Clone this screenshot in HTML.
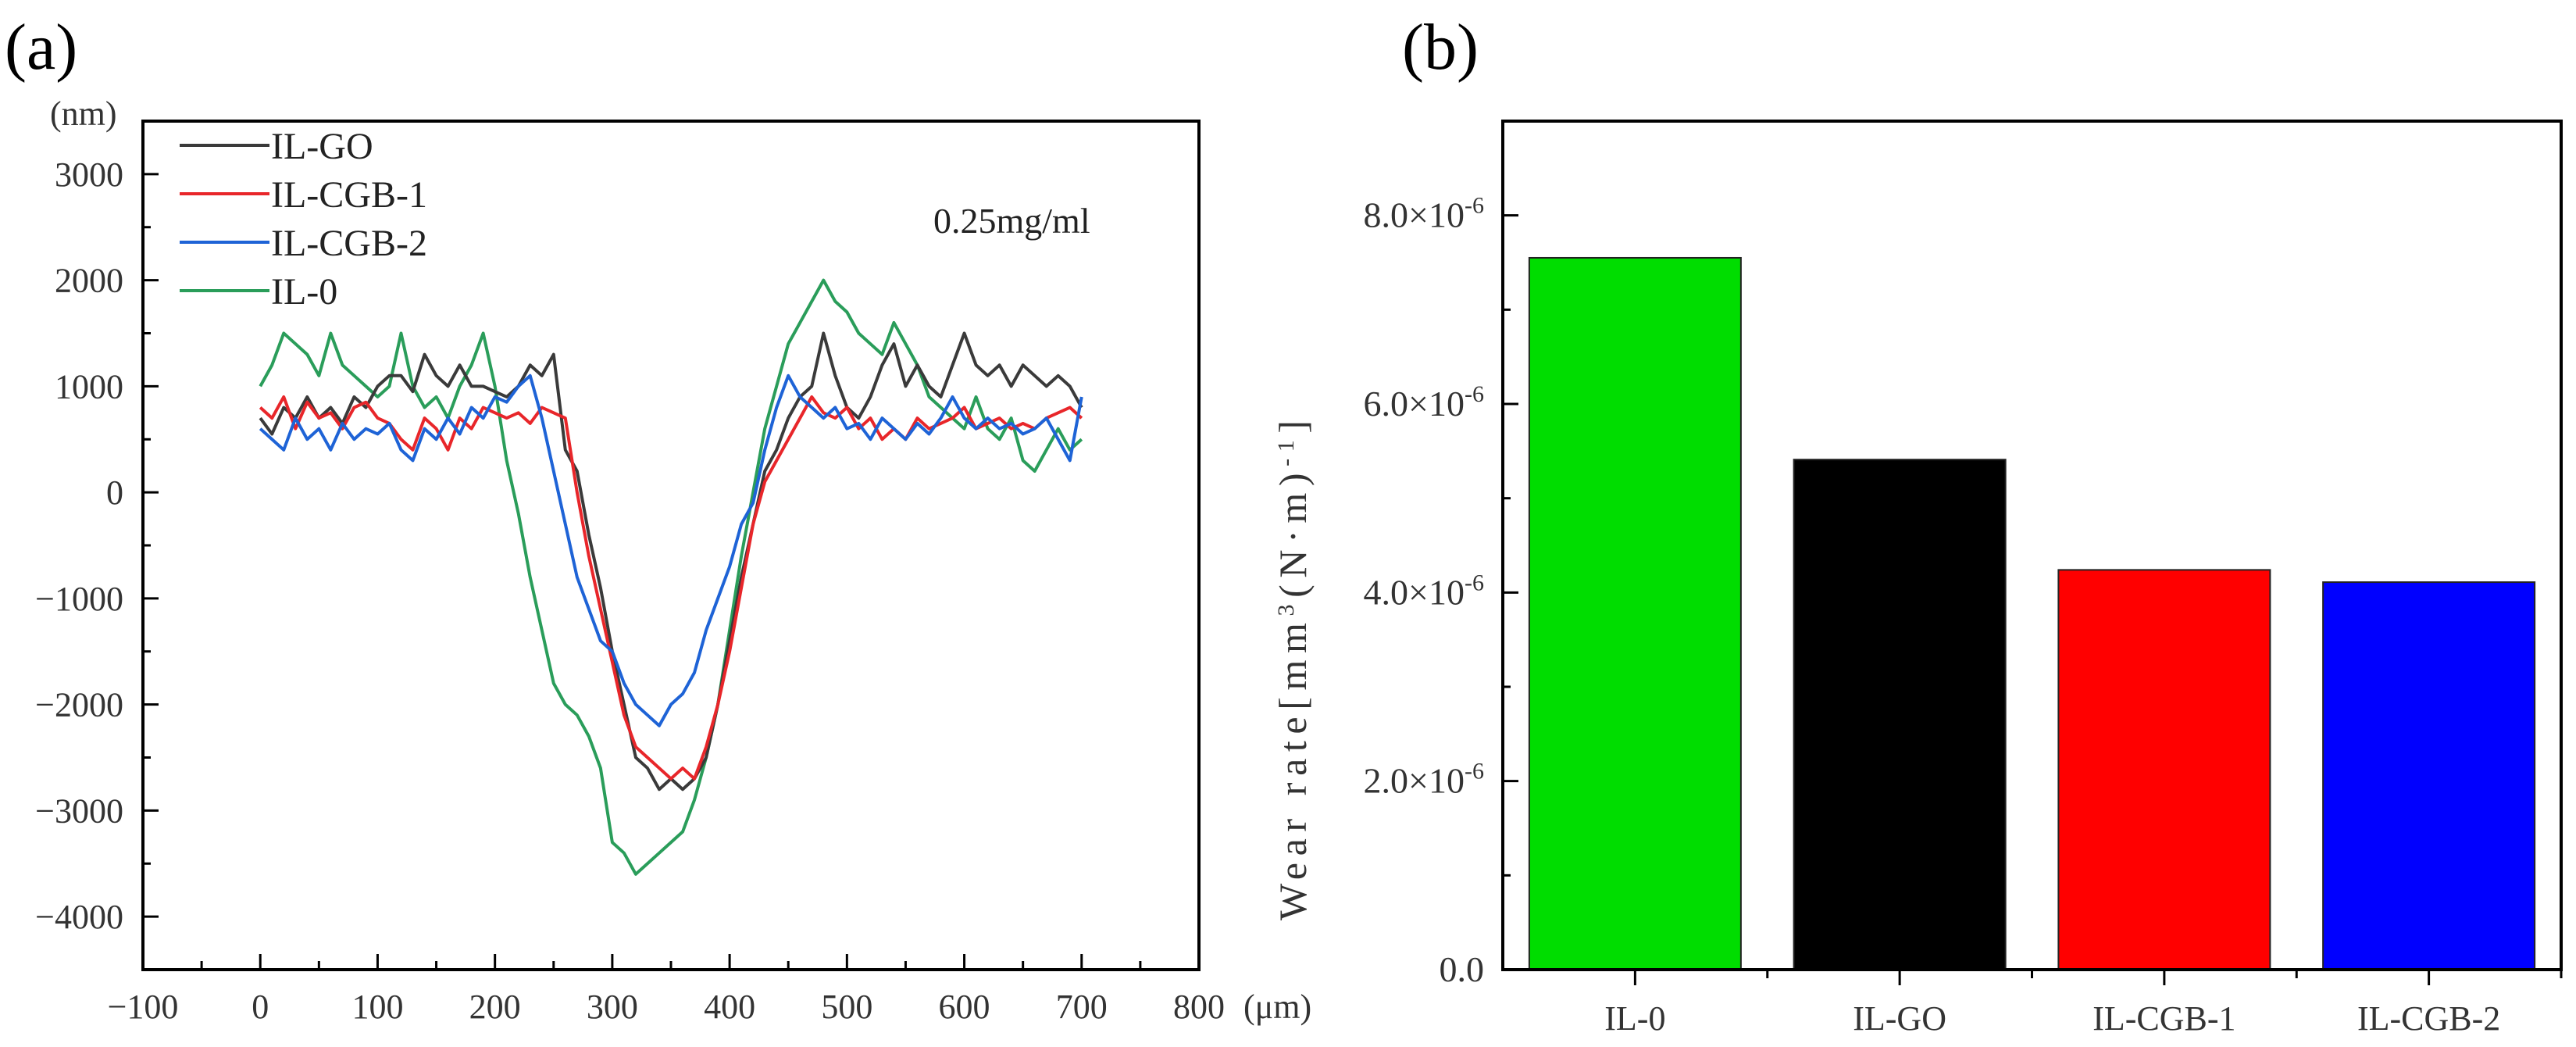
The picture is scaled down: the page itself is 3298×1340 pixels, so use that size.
<!DOCTYPE html>
<html><head><meta charset="utf-8"><style>
html,body{margin:0;padding:0;background:#fff;}
svg{display:block;font-family:"Liberation Serif","Noto Serif CJK SC",serif;}
</style></head><body>
<svg id="c" width="3298" height="1340" viewBox="0 0 3298 1340" xmlns="http://www.w3.org/2000/svg"></svg>
<script>
const xs = [0,10,20,30,40,50,60,70,80,90,100,110,120,130,140,150,160,170,180,190,200,210,220,230,240,250,260,270,280,290,300,310,320,330,340,350,360,370,380,390,400,410,420,430,440,450,460,470,480,490,500,510,520,530,540,550,560,570,580,590,600,610,620,630,640,650,660,670,680,690,700];
const ilGO = [700,550,800,700,900,700,800,650,900,800,1000,1100,1100,950,1300,1100,1000,1200,1000,1000,950,900,1000,1200,1100,1300,400,200,-400,-900,-1500,-2000,-2500,-2600,-2800,-2700,-2800,-2700,-2500,-2000,-1400,-800,-300,200,400,700,900,1000,1500,1100,800,700,900,1200,1400,1000,1200,1000,900,1200,1500,1200,1100,1200,1000,1200,1100,1000,1100,1000,800];
const ilCGB1 = [800,700,900,600,850,700,750,600,800,850,700,650,500,400,700,600,400,700,600,800,750,700,750,650,800,750,700,0,-600,-1100,-1600,-2100,-2400,-2500,-2600,-2700,-2600,-2700,-2400,-2000,-1500,-900,-300,100,300,500,700,900,750,700,800,600,700,500,600,500,700,600,650,700,800,600,650,700,600,650,600,700,750,800,700];
const ilCGB2 = [600,500,400,700,500,600,400,650,500,600,550,650,400,300,600,500,700,550,800,700,900,850,1000,1100,700,200,-300,-800,-1100,-1400,-1500,-1800,-2000,-2100,-2200,-2000,-1900,-1700,-1300,-1000,-700,-300,-100,400,800,1100,900,800,700,800,600,650,500,700,600,500,650,550,700,900,700,600,700,600,650,550,600,700,500,300,900];
const il0 = [1000,1200,1500,1400,1300,1100,1500,1200,1100,1000,900,1000,1500,1000,800,900,700,1000,1200,1500,1000,300,-200,-800,-1300,-1800,-2000,-2100,-2300,-2600,-3300,-3400,-3600,-3500,-3400,-3300,-3200,-2900,-2500,-2000,-1300,-600,0,600,1000,1400,1600,1800,2000,1800,1700,1500,1400,1300,1600,1400,1200,900,800,700,600,900,600,500,700,300,200,400,600,400,500];
const seriesNames = ["IL-GO","IL-CGB-1","IL-CGB-2","IL-0"];
const xTicks = [-100,0,100,200,300,400,500,600,700,800];
const yTicks = [3000,2000,1000,0,-1000,-2000,-3000,-4000];
const barCats = ["IL-0","IL-GO","IL-CGB-1","IL-CGB-2"];
const barVals = [7.55e-6,5.41e-6,4.24e-6,4.11e-6];
const barTicks = [0,2e-6,4e-6,6e-6,8e-6];
const barTickLabels = ["0.0","2.0","4.0","6.0","8.0"];

const svg=document.getElementById('c');
const NS="http://www.w3.org/2000/svg";
function mk(tag,attrs,parent){const e=document.createElementNS(NS,tag);for(const k in attrs)e.setAttribute(k,attrs[k]);(parent||svg).appendChild(e);return e;}

// ---- chart a ----
const A={l:183,r:1535,t:155,b:1241,x0:-100,x1:800,y0:-4500,y1:3500};
const ax=v=>A.l+(v-A.x0)/(A.x1-A.x0)*(A.r-A.l);
const ay=v=>A.b-(v-A.y0)/(A.y1-A.y0)*(A.b-A.t);
const ga=mk('g',{});


let t=mk('text',{x:6,y:88,'font-size':84},ga);t.textContent='(a)';

const cols=["#3a3a3a","#e8262a","#1e63d6","#2a9d5a"];
const data=[ilGO,ilCGB1,ilCGB2,il0];
[3,0,1,2].forEach(si=>{
  const p=mk('polyline',{points:xs.map((x,i)=>ax(x)+','+ay(data[si][i])).join(' '),fill:'none',stroke:cols[si],'stroke-width':4,'stroke-linejoin':'round'},ga);
  
  
});
const fa=mk('rect',{x:A.l,y:A.t,width:A.r-A.l,height:A.b-A.t,fill:'none',stroke:'#000','stroke-width':4},ga);

xTicks.forEach((v,i)=>{
  mk('line',{x1:ax(v),x2:ax(v),y1:A.b,y2:A.b-20,stroke:'#000','stroke-width':3},ga);
  if(i<xTicks.length-1) mk('line',{x1:ax(v+50),x2:ax(v+50),y1:A.b,y2:A.b-11,stroke:'#000','stroke-width':3},ga);
  const tt=mk('text',{x:ax(v),y:1303,'font-size':44,'text-anchor':'middle',fill:'#333'},ga);tt.textContent=v<0?'−'+(-v):v;
  
});
for(let v=-4500;v<=3500;v+=500){mk('line',{x1:A.l,x2:A.l+(v%1000===0?20:10),y1:ay(v),y2:ay(v),stroke:'#000','stroke-width':3},ga);}
yTicks.forEach(v=>{
  const tt=mk('text',{x:158,y:ay(v)+15,'font-size':44,'text-anchor':'end',fill:'#333'},ga);tt.textContent=v<0?'−'+(-v):v;
  
});
t=mk('text',{x:64,y:160,'font-size':44,fill:'#333'},ga);t.textContent='(nm)';

t=mk('text',{x:1592,y:1303,'font-size':44,fill:'#333'},ga);t.textContent='(μm)';

t=mk('text',{x:1195,y:298,'font-size':46,fill:'#222'},ga);t.textContent='0.25mg/ml';

[186,248,310,372].forEach((y,i)=>{
  const g=mk('g',{},ga);
  
  mk('line',{x1:230,x2:345,y1:y,y2:y,stroke:cols[i],'stroke-width':4},g);
  const lt=mk('text',{x:347,y:y+17,'font-size':48,fill:'#222'},g);lt.textContent=seriesNames[i];
});

// ---- chart b ----
const B={l:1924,r:3279,t:155,b:1241,ymax:9e-6};
const by=v=>B.b-v/B.ymax*(B.b-B.t);
const step=(B.r-B.l)/barCats.length;
const bx=i=>B.l+step*(i+0.5);
const gb=mk('g',{});


t=mk('text',{x:1795,y:88,'font-size':84},gb);t.textContent='(b)';

const bcols=["#00dd00","#000000","#ff0000","#0000ff"];
barVals.forEach((v,i)=>{
  const r=mk('rect',{x:bx(i)-step*0.4,y:by(v),width:step*0.8,height:B.b-by(v),fill:bcols[i],stroke:'#222','stroke-width':2},gb);
  
  
  mk('line',{x1:bx(i),x2:bx(i),y1:B.b,y2:B.b+20,stroke:'#000','stroke-width':3},gb);
  mk('line',{x1:B.l+step*(i+1),x2:B.l+step*(i+1),y1:B.b,y2:B.b+11,stroke:'#000','stroke-width':3},gb);
  const tt=mk('text',{x:bx(i),y:1318,'font-size':44,'text-anchor':'middle',fill:'#333'},gb);tt.textContent=barCats[i];
  
});
const fb=mk('rect',{x:B.l,y:B.t,width:B.r-B.l,height:B.b-B.t,fill:'none',stroke:'#000','stroke-width':4},gb);

for(let k=0;k<=9;k++){mk('line',{x1:B.l,x2:B.l+(k%2===0?20:10),y1:by(k*1e-6),y2:by(k*1e-6),stroke:'#000','stroke-width':3},gb);}
barTicks.forEach((v,i)=>{
  const tt=mk('text',{x:1900,y:by(v)+15,'font-size':46,'text-anchor':'end',fill:'#333'},gb);
  
  if(v===0){tt.textContent='0.0';}
  else{tt.textContent=barTickLabels[i]+'×10';const ts=mk('tspan',{dy:-18,'font-size':30},tt);ts.textContent='-6';}
});
t=mk('text',{x:0,y:0,'font-size':50,fill:'#333','text-anchor':'middle',transform:'translate(1672,858) rotate(-90)',textLength:640,lengthAdjust:'spacing'},gb);

t.innerHTML='Wear rate[mm<tspan dy="-16" font-size="30">3</tspan><tspan dy="16">(N·m)</tspan><tspan dy="-16" font-size="30">-1</tspan><tspan dy="16">]</tspan>';
</script>
</body></html>
